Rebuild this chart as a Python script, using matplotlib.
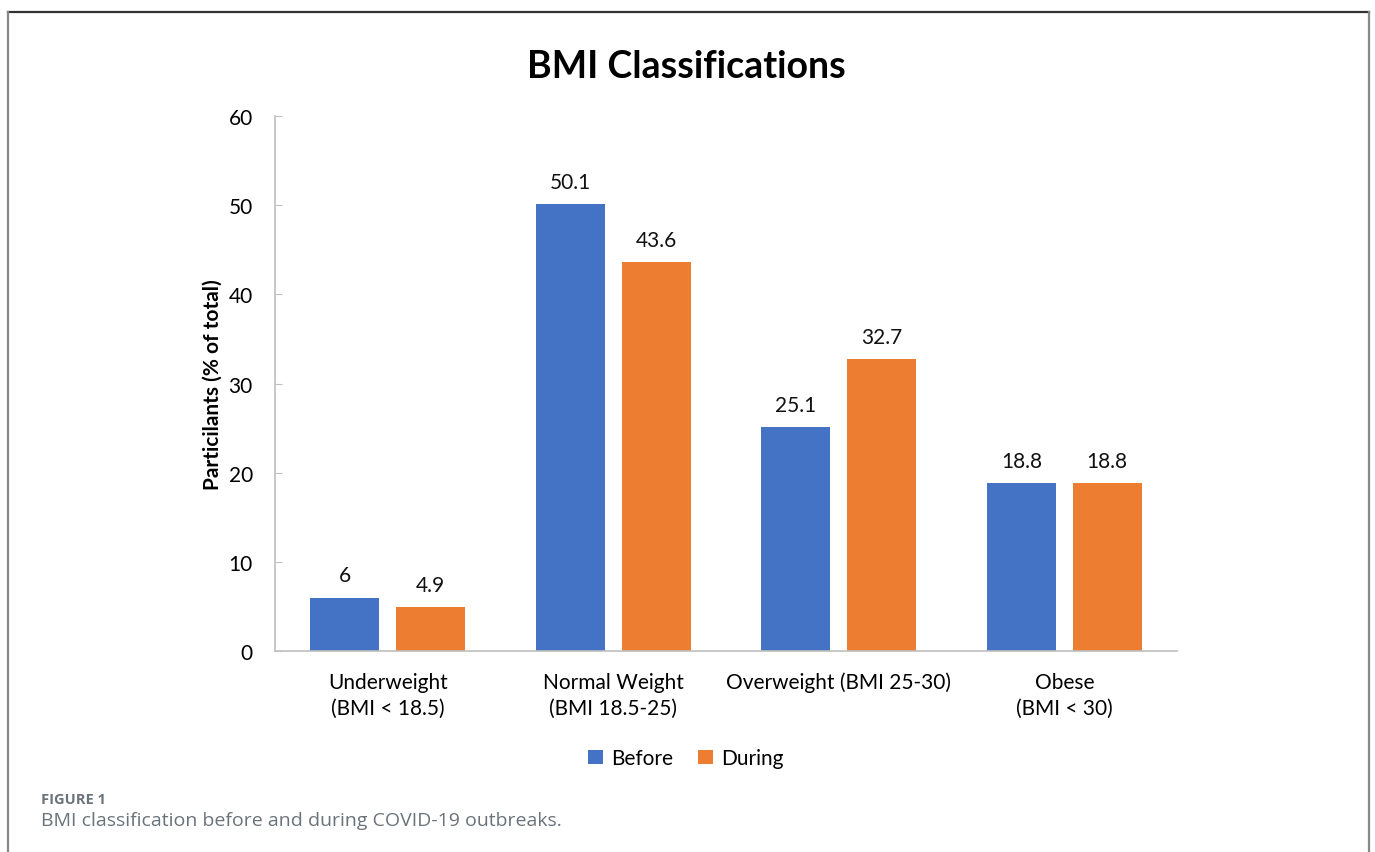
import numpy as np
import matplotlib
matplotlib.use("Agg")
import matplotlib.pyplot as plt
from matplotlib.lines import Line2D

# Data
categories = ["Underweight\n(BMI < 18.5)", "Normal Weight\n(BMI 18.5-25)",
              "Overweight (BMI 25-30)", "Obese\n(BMI < 30)"]
before = [6, 50.1, 25.1, 18.8]
during = [4.9, 43.6, 32.7, 18.8]
before_labels = ["6", "50.1", "25.1", "18.8"]
during_labels = ["4.9", "43.6", "32.7", "18.8"]

plt.rcParams["font.family"] = ["Lato", "DejaVu Sans"]

fig = plt.figure(figsize=(13.75, 8.53), dpi=100)
ax = fig.add_axes([0.2, 0.2356, 0.656, 0.6272])

x = np.arange(len(categories))
w = 0.306
off = 0.19
b1 = ax.bar(x - off, before, w, color="#4472C4", label="Before")
b2 = ax.bar(x + off, during, w, color="#ED7D31", label="During")

for bars, labs in [(b1, before_labels), (b2, during_labels)]:
    for bar, lab in zip(bars, labs):
        ax.annotate(lab, (bar.get_x() + bar.get_width() / 2, bar.get_height()),
                    xytext=(0, 9), textcoords="offset points",
                    ha="center", va="bottom", fontsize=15, color="#111111")

ax.set_xlim(-0.5, 3.5)
ax.set_ylim(0, 60)
ax.set_yticks(range(0, 61, 10))
ax.set_xticks(x)
ax.set_xticklabels(categories, fontsize=15, linespacing=1.35)
ax.tick_params(axis="x", length=0, pad=15)
ax.tick_params(axis="y", direction="in", length=5, color="#bfbfbf", labelsize=15, pad=16)
for s in ["top", "right"]:
    ax.spines[s].set_visible(False)
for s in ["left", "bottom"]:
    ax.spines[s].set_color("#bfbfbf")
    ax.spines[s].set_linewidth(1.2)

ax.set_ylabel("Particilants (% of total)", fontsize=15, fontweight="bold", labelpad=4)
fig.text(0.499, 0.921, "BMI Classifications", ha="center", va="center",
         fontsize=27, fontweight="bold")

fig.legend(handles=[b1, b2], loc="center", bbox_to_anchor=(0.499, 0.11),
           ncol=2, frameon=False, fontsize=15, handlelength=0.7, handleheight=0.7,
           handletextpad=0.4, columnspacing=1.2)

# frame around the chart
top = 1 - 13 / 853
fig.add_artist(Line2D([8 / 1375, 1369 / 1375], [top, top], color="#333333", lw=1.6))
fig.add_artist(Line2D([8 / 1375, 8 / 1375], [0, top], color="#888888", lw=1.6))
fig.add_artist(Line2D([1369 / 1375, 1369 / 1375], [0, top], color="#888888", lw=1.6))

fig.text(41 / 1375, 1 - 800 / 853, "FIGURE 1", ha="left", va="center",
         fontsize=10.5, fontweight="bold", color="#6b737a", family=["Open Sans", "DejaVu Sans"])
fig.text(41 / 1375, 1 - 821 / 853, "BMI classification before and during COVID-19 outbreaks.",
         ha="left", va="center", fontsize=14, color="#6b737a",
         family=["Open Sans", "DejaVu Sans"])

fig.savefig("out.png", dpi=100)
